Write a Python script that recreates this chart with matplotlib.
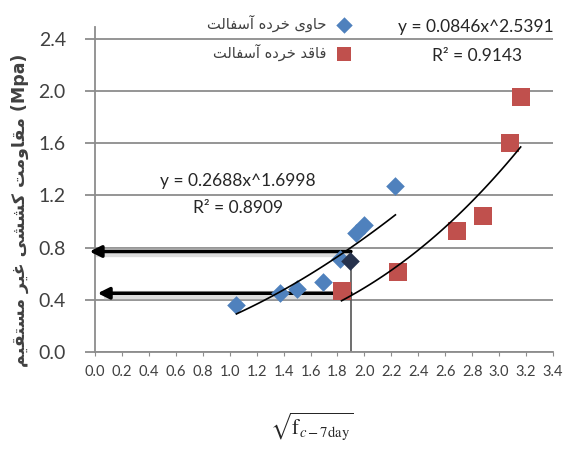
import matplotlib
matplotlib.use("Agg")
import matplotlib.pyplot as plt
import numpy as np

# ---- data ----
with_asphalt_x = [1.05, 1.37, 1.50, 1.69, 1.82, 1.94, 2.00, 2.23]
with_asphalt_y = [0.36, 0.45, 0.48, 0.54, 0.71, 0.91, 0.97, 1.27]
marked_x = [1.89]
marked_y = [0.70]
without_asphalt_x = [1.83, 2.25, 2.69, 2.88, 3.08, 3.16]
without_asphalt_y = [0.47, 0.61, 0.93, 1.04, 1.60, 1.95]

fit_with = (0.2688, 1.6998, 0.8909)
fit_without = (0.0846, 2.5391, 0.9143)

ref_x = 1.9
ref_levels = [0.77, 0.45]

x_ticks = np.arange(0, 3.41, 0.2)
y_ticks = np.arange(0, 2.41, 0.4)

label_with = "حاوی خرده آسفالت"
label_without = "فاقد خرده آسفالت"
y_title = "مقاومت کششی غیر مستقیم"

# ---- minimal persian shaping (matplotlib has no bidi / joining) ----
FORMS = {
    "ا": ("\uFE8D", "\uFE8E", None, None),
    "آ": ("\uFE81", "\uFE82", None, None),
    "د": ("\uFEA9", "\uFEAA", None, None),
    "ر": ("\uFEAD", "\uFEAE", None, None),
    "و": ("\uFEED", "\uFEEE", None, None),
    "ت": ("\uFE95", "\uFE96", "\uFE97", "\uFE98"),
    "ح": ("\uFEA1", "\uFEA2", "\uFEA3", "\uFEA4"),
    "خ": ("\uFEA5", "\uFEA6", "\uFEA7", "\uFEA8"),
    "س": ("\uFEB1", "\uFEB2", "\uFEB3", "\uFEB4"),
    "ش": ("\uFEB5", "\uFEB6", "\uFEB7", "\uFEB8"),
    "غ": ("\uFECD", "\uFECE", "\uFECF", "\uFED0"),
    "ف": ("\uFED1", "\uFED2", "\uFED3", "\uFED4"),
    "ق": ("\uFED5", "\uFED6", "\uFED7", "\uFED8"),
    "ل": ("\uFEDD", "\uFEDE", "\uFEDF", "\uFEE0"),
    "م": ("\uFEE1", "\uFEE2", "\uFEE3", "\uFEE4"),
    "ه": ("\uFEE9", "\uFEEA", "\uFEEB", "\uFEEC"),
    "ی": ("\uFBFC", "\uFBFD", "\uFBFE", "\uFBFF"),
    "ک": ("\uFB8E", "\uFB8F", "\uFB90", "\uFB91"),
}


def shape(text):
    out = []
    for i, ch in enumerate(text):
        if ch not in FORMS:
            out.append(ch)
            continue
        prev = text[i - 1] if i > 0 else ""
        nxt = text[i + 1] if i + 1 < len(text) else ""
        join_prev = prev in FORMS and FORMS[prev][2] is not None
        join_next = nxt in FORMS and FORMS[ch][2] is not None
        iso, fin, ini, med = FORMS[ch]
        if join_prev and join_next:
            out.append(med)
        elif join_prev:
            out.append(fin)
        elif join_next:
            out.append(ini)
        else:
            out.append(iso)
    return "".join(out)[::-1]


blue = "#4F81BD"
red = "#C0504D"
grid_c = "#8C8C8C"
txt_c = "#404040"

fig = plt.figure(figsize=(5.71, 4.51), dpi=100)
ax = fig.add_axes([95 / 571, 1 - 352 / 451, 458 / 571, 325 / 451])

ax.set_xlim(0, 3.4)
ax.set_ylim(0, 2.49)
ax.set_yticks(y_ticks)
ax.set_xticks(x_ticks)
ax.yaxis.grid(True, color=grid_c, lw=1.3)
ax.set_axisbelow(True)
for s in ["top", "right"]:
    ax.spines[s].set_visible(False)
for s in ["left", "bottom"]:
    ax.spines[s].set_color(grid_c)
    ax.spines[s].set_linewidth(1.3)
ax.tick_params(axis="y", length=7, color=grid_c, width=1.3, labelsize=14,
               labelcolor=txt_c, pad=14)
ax.tick_params(axis="x", length=3, color=grid_c, labelsize=10.5,
               labelcolor=txt_c, pad=6)
ax.set_yticklabels([f"{v:.1f}" for v in y_ticks], family="Lato")
ax.set_xticklabels([f"{v:.1f}" for v in x_ticks], family="Lato")

# reference arrows and vertical guide
ax.plot([ref_x, ref_x], [0, ref_levels[0]], color="#555555", lw=1.2, zorder=2)
for lvl, tip in zip(ref_levels, [-0.04, 0.02]):
    ax.plot([tip + 0.05, ref_x], [lvl - 0.012, lvl - 0.012], color="#dcdcdc",
            lw=6, solid_capstyle="butt", zorder=2)
    ax.annotate("", xy=(tip, lvl), xytext=(ref_x, lvl),
                arrowprops=dict(arrowstyle="-|>", color="black", lw=2.5,
                                mutation_scale=17, shrinkA=0, shrinkB=0),
                zorder=3, annotation_clip=False)

ax.scatter(with_asphalt_x, with_asphalt_y, marker="D", s=90, color=blue,
           zorder=4, linewidths=0)
ax.scatter(marked_x, marked_y, marker="D", s=90, color="#26324d",
           zorder=4, linewidths=0)
ax.scatter(without_asphalt_x, without_asphalt_y, marker="s", s=170, color=red,
           zorder=4, linewidths=0)

# power trendlines
xs = np.linspace(min(with_asphalt_x), max(with_asphalt_x), 100)
ax.plot(xs, fit_with[0] * xs ** fit_with[1], color="black", lw=1.2, zorder=5)
xs = np.linspace(min(without_asphalt_x), max(without_asphalt_x), 100)
ax.plot(xs, fit_without[0] * xs ** fit_without[1], color="black", lw=1.2, zorder=5)

eq_kw = dict(family="Lato", fontsize=12.5, color="#262626", ha="center",
             va="center")
fig.text(476 / 571, 1 - 27 / 451, f"y = {fit_without[0]}x^{fit_without[1]}", **eq_kw)
fig.text(477 / 571, 1 - 56 / 451, f"R² = {fit_without[2]}", **eq_kw)
fig.text(238 / 571, 1 - 181 / 451, f"y = {fit_with[0]}x^{fit_with[1]}", **eq_kw)
fig.text(238 / 571, 1 - 208 / 451, f"R² = {fit_with[2]}", **eq_kw)

# legend (marker on the right, RTL)
h1 = ax.scatter([], [], marker="D", s=70, color=blue, linewidths=0)
h2 = ax.scatter([], [], marker="s", s=110, color=red, linewidths=0)
leg = fig.legend([h1, h2], [shape(label_with), shape(label_without)],
                 loc="upper right", bbox_to_anchor=(372 / 571, 1 - 2 / 451),
                 frameon=False, markerfirst=False, handletextpad=0.2,
                 labelspacing=0.75, prop=dict(family="DejaVu Sans", size=10.5))
for t in leg.get_texts():
    t.set_color(txt_c)

fig.text(20 / 571, 1 - 210 / 451, shape(y_title) + " (Mpa)", rotation=90,
         ha="center", va="center", fontsize=12.5, fontweight="bold",
         color=txt_c, family="DejaVu Sans")

plt.rcParams["mathtext.fontset"] = "stix"
fig.text(312 / 571, 1 - 426 / 451, r"$\sqrt{\mathrm{f}_{c-7\mathrm{day}}}$",
         ha="center", va="center", fontsize=15, color="#262626")

fig.savefig("out.png", dpi=100, facecolor="white")
